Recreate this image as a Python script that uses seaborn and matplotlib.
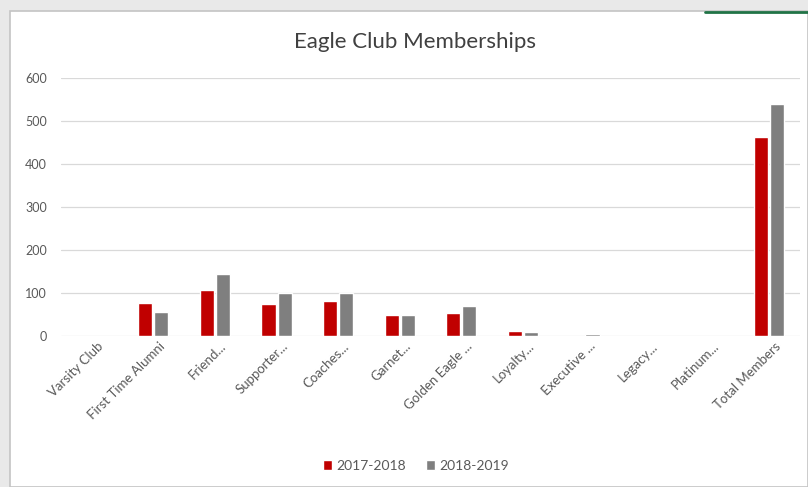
import matplotlib
matplotlib.use("Agg")
import matplotlib.pyplot as plt
import seaborn as sns
import pandas as pd
from matplotlib.patches import Rectangle
from matplotlib.lines import Line2D
import matplotlib.transforms as mtransforms

categories = ["Varsity Club", "First Time Alumni", "Friend...", "Supporter...", "Coaches...",
              "Garnet...", "Golden Eagle ...", "Loyalty...", "Executive ...", "Legacy...",
              "Platinum...", "Total Members"]
series_names = ["2017-2018", "2018-2019"]
values_2017 = [0, 77, 106, 74, 82, 49, 53, 11, 0, 0, 0, 463]
values_2018 = [0, 56, 144, 99, 99, 48, 70, 10, 5, 0, 0, 539]
y_ticks = [0, 100, 200, 300, 400, 500, 600]
colors = ["#c00000", "#7f7f7f"]

df = pd.DataFrame({
    "category": categories * 2,
    "season": [series_names[0]] * len(categories) + [series_names[1]] * len(categories),
    "value": values_2017 + values_2018,
})

sns.set_theme(style="white")
plt.rcParams["font.family"] = ["Lato", "DejaVu Sans"]

fig = plt.figure(figsize=(8.08, 4.87), dpi=100)
fig.patch.set_facecolor("#e9e9e9")
panel = Rectangle((10 / 808, 0), 1 - 10 / 808, 1 - 11 / 487, transform=fig.transFigure,
                  facecolor="white", edgecolor="#c4c4c4", linewidth=1.2, zorder=-10)
fig.add_artist(panel)
fig.add_artist(Line2D([705 / 808, 1], [1 - 12 / 487, 1 - 12 / 487], transform=fig.transFigure,
                      color="#217346", linewidth=2.0))

ax = fig.add_axes([61 / 808, 1 - 336 / 487, (800 - 61) / 808, (336 - 78) / 487])
ax.set_facecolor("none")
sns.barplot(data=df, x="category", y="value", hue="season", order=categories,
            hue_order=series_names, palette=colors, width=0.52, gap=0.12,
            saturation=1, ax=ax, legend=False)

ax.set_ylim(0, 600)
ax.set_yticks(y_ticks)
ax.set_yticklabels([str(t) for t in y_ticks], color="#595959", fontsize=9)
ax.yaxis.grid(True, color="#d9d9d9", linewidth=0.9)
ax.set_axisbelow(True)
for s in ["top", "right", "left", "bottom"]:
    ax.spines[s].set_visible(False)
ax.tick_params(axis="y", length=0, pad=10)
ax.tick_params(axis="x", length=0, pad=3)
ax.set_xticks(range(len(categories)))
ax.set_xticklabels(categories, rotation=45, ha="right", rotation_mode="anchor",
                   color="#595959", fontsize=9.5)
offset = mtransforms.ScaledTranslation(5 / 100, 0, fig.dpi_scale_trans)
for lbl in ax.get_xticklabels():
    lbl.set_transform(lbl.get_transform() + offset)
ax.set_xlabel("")
ax.set_ylabel("")

fig.text(415 / 808, 1 - 42 / 487, "Eagle Club Memberships", ha="center", va="center",
         fontsize=16, color="#404040")

handles = [Rectangle((0, 0), 1, 1, facecolor=c) for c in colors]
fig.legend(handles, series_names, loc="center", bbox_to_anchor=(416 / 808, 1 - 466 / 487),
           ncol=2, frameon=False, fontsize=10, handlelength=0.7, handleheight=0.7,
           handletextpad=0.3, columnspacing=1.4, labelcolor="#595959")

fig.savefig("out.png", dpi=100, facecolor=fig.get_facecolor())
